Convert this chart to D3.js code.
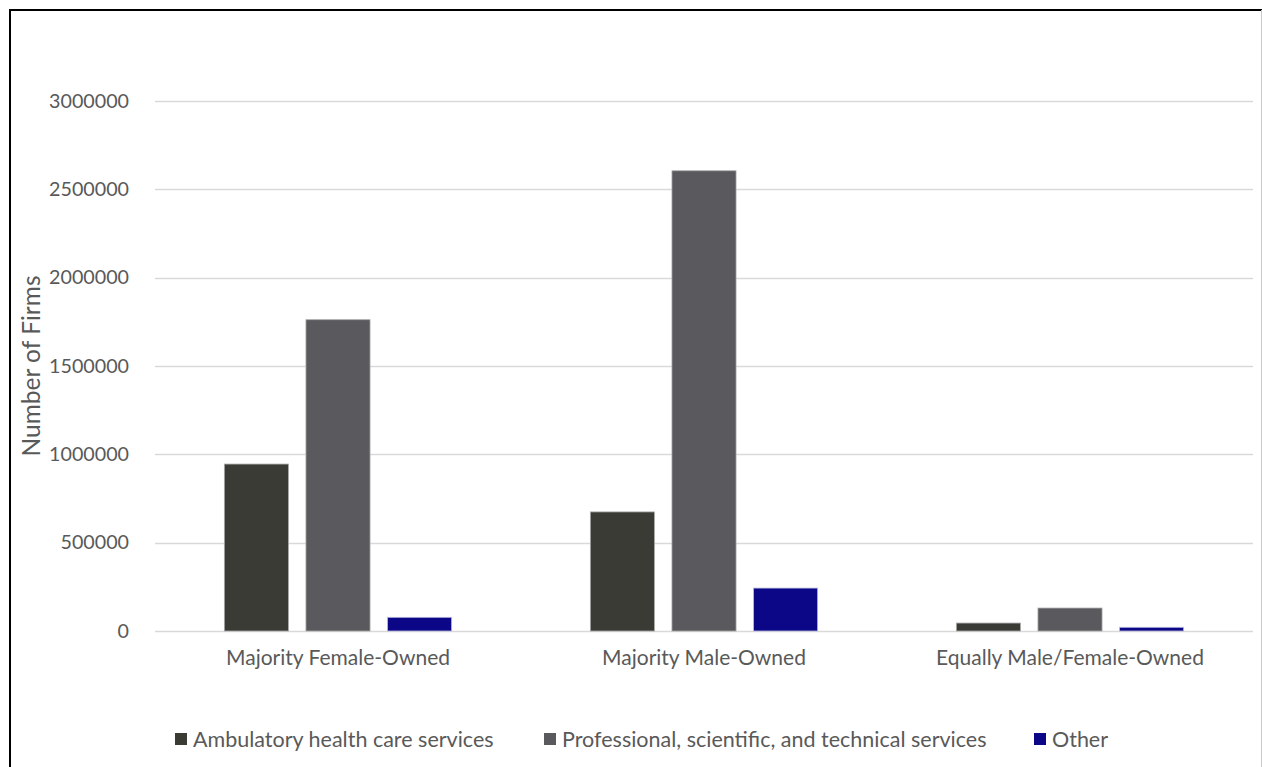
<!DOCTYPE html>
<html>
<head>
<meta charset="utf-8">
<script src="https://cdn.jsdelivr.net/npm/d3@7"></script>
<style>
  html, body { margin: 0; padding: 0; background: #fff; }
  svg { display: block; }
  text { font-family: Lato, "Open Sans", sans-serif; fill: #595959; }
</style>
</head>
<body>
<svg id="chart" width="1262" height="767"></svg>
<script>
// Number of firms by ownership type and industry
const categories = ["Majority Female-Owned", "Majority Male-Owned", "Equally Male/Female-Owned"];
const seriesNames = ["Ambulatory health care services", "Professional, scientific, and technical services", "Other"];
const ambulatory = [945000, 674000, 45000];
const professional = [1762000, 2605000, 130000];
const other = [77500, 243000, 21000];
const yTicks = [0, 500000, 1000000, 1500000, 2000000, 2500000, 3000000];
const colors = ["#3b3b36", "#5a595e", "#0c0786"];

const series = [ambulatory, professional, other];

const svg = d3.select("#chart");
const W = 1262, H = 767;

// outer frame
svg.append("line").attr("x1", 9).attr("x2", W).attr("y1", 10).attr("y2", 10)
  .attr("stroke", "#000").attr("stroke-width", 2);
svg.append("line").attr("x1", 10).attr("x2", 10).attr("y1", 9).attr("y2", H)
  .attr("stroke", "#000").attr("stroke-width", 2);
svg.append("line").attr("x1", 1261.5).attr("x2", 1261.5).attr("y1", 10).attr("y2", H)
  .attr("stroke", "#c8c8c8").attr("stroke-width", 1);

const plot = { left: 155, right: 1253, top: 101, bottom: 631 };

const x = d3.scaleBand().domain(categories).range([plot.left, plot.right]);
const xInner = d3.scaleBand().domain(d3.range(seriesNames.length))
  .range([0, x.bandwidth()]).paddingInner(0.215).paddingOuter(0.85);
const y = d3.scaleLinear().domain([0, 3000000]).range([plot.bottom, plot.top]);

// gridlines
svg.append("g")
  .selectAll("line").data(yTicks).join("line")
  .attr("x1", plot.left).attr("x2", plot.right)
  .attr("y1", d => Math.round(y(d)) + 0.5).attr("y2", d => Math.round(y(d)) + 0.5)
  .attr("stroke", "#d9d9d9").attr("stroke-width", 1.5);

// y axis labels
const yAxis = svg.append("g")
  .attr("transform", `translate(${plot.left - 23},0)`)
  .call(d3.axisLeft(y).tickValues(yTicks).tickFormat(d3.format("d")).tickSize(0));
yAxis.select(".domain").remove();
yAxis.selectAll("text").attr("font-size", 19.7).attr("fill", "#595959")
  .style("font-family", "Lato, sans-serif").attr("dx", 0);

// bars
const groups = svg.append("g").selectAll("g").data(categories).join("g")
  .attr("transform", d => `translate(${x(d)},0)`);
groups.selectAll("rect")
  .data((c, ci) => series.map((s, si) => ({ si, v: s[ci] })))
  .join("rect")
  .attr("x", d => xInner(d.si))
  .attr("width", xInner.bandwidth())
  .attr("y", d => y(d.v))
  .attr("height", d => y(0) - y(d.v))
  .attr("fill", d => colors[d.si])
  .attr("stroke", d => d.si === 2 ? "#b9b9e0" : "#a8a8a8")
  .attr("stroke-width", 0.8);

// x axis labels
const xAxis = svg.append("g")
  .attr("transform", `translate(0,${plot.bottom + 16})`)
  .call(d3.axisBottom(x).tickSize(0));
xAxis.select(".domain").remove();
xAxis.selectAll("text").attr("font-size", 21).attr("fill", "#595959")
  .style("font-family", "Lato, sans-serif");

// y axis title
svg.append("text")
  .attr("transform", `translate(40,${(plot.top + plot.bottom) / 2}) rotate(-90)`)
  .attr("text-anchor", "middle")
  .attr("font-size", 24.5)
  .text("Number of Firms");

// legend
const legendX = [175, 544, 1034];
const legend = svg.append("g").selectAll("g").data(seriesNames).join("g")
  .attr("transform", (d, i) => `translate(${legendX[i]},733)`);
legend.append("rect").attr("width", 12).attr("height", 12)
  .attr("fill", (d, i) => colors[i]);
legend.append("text").attr("x", 18).attr("y", 6).attr("dy", "0.35em")
  .attr("font-size", 21.5).text(d => d);
</script>
</body>
</html>
